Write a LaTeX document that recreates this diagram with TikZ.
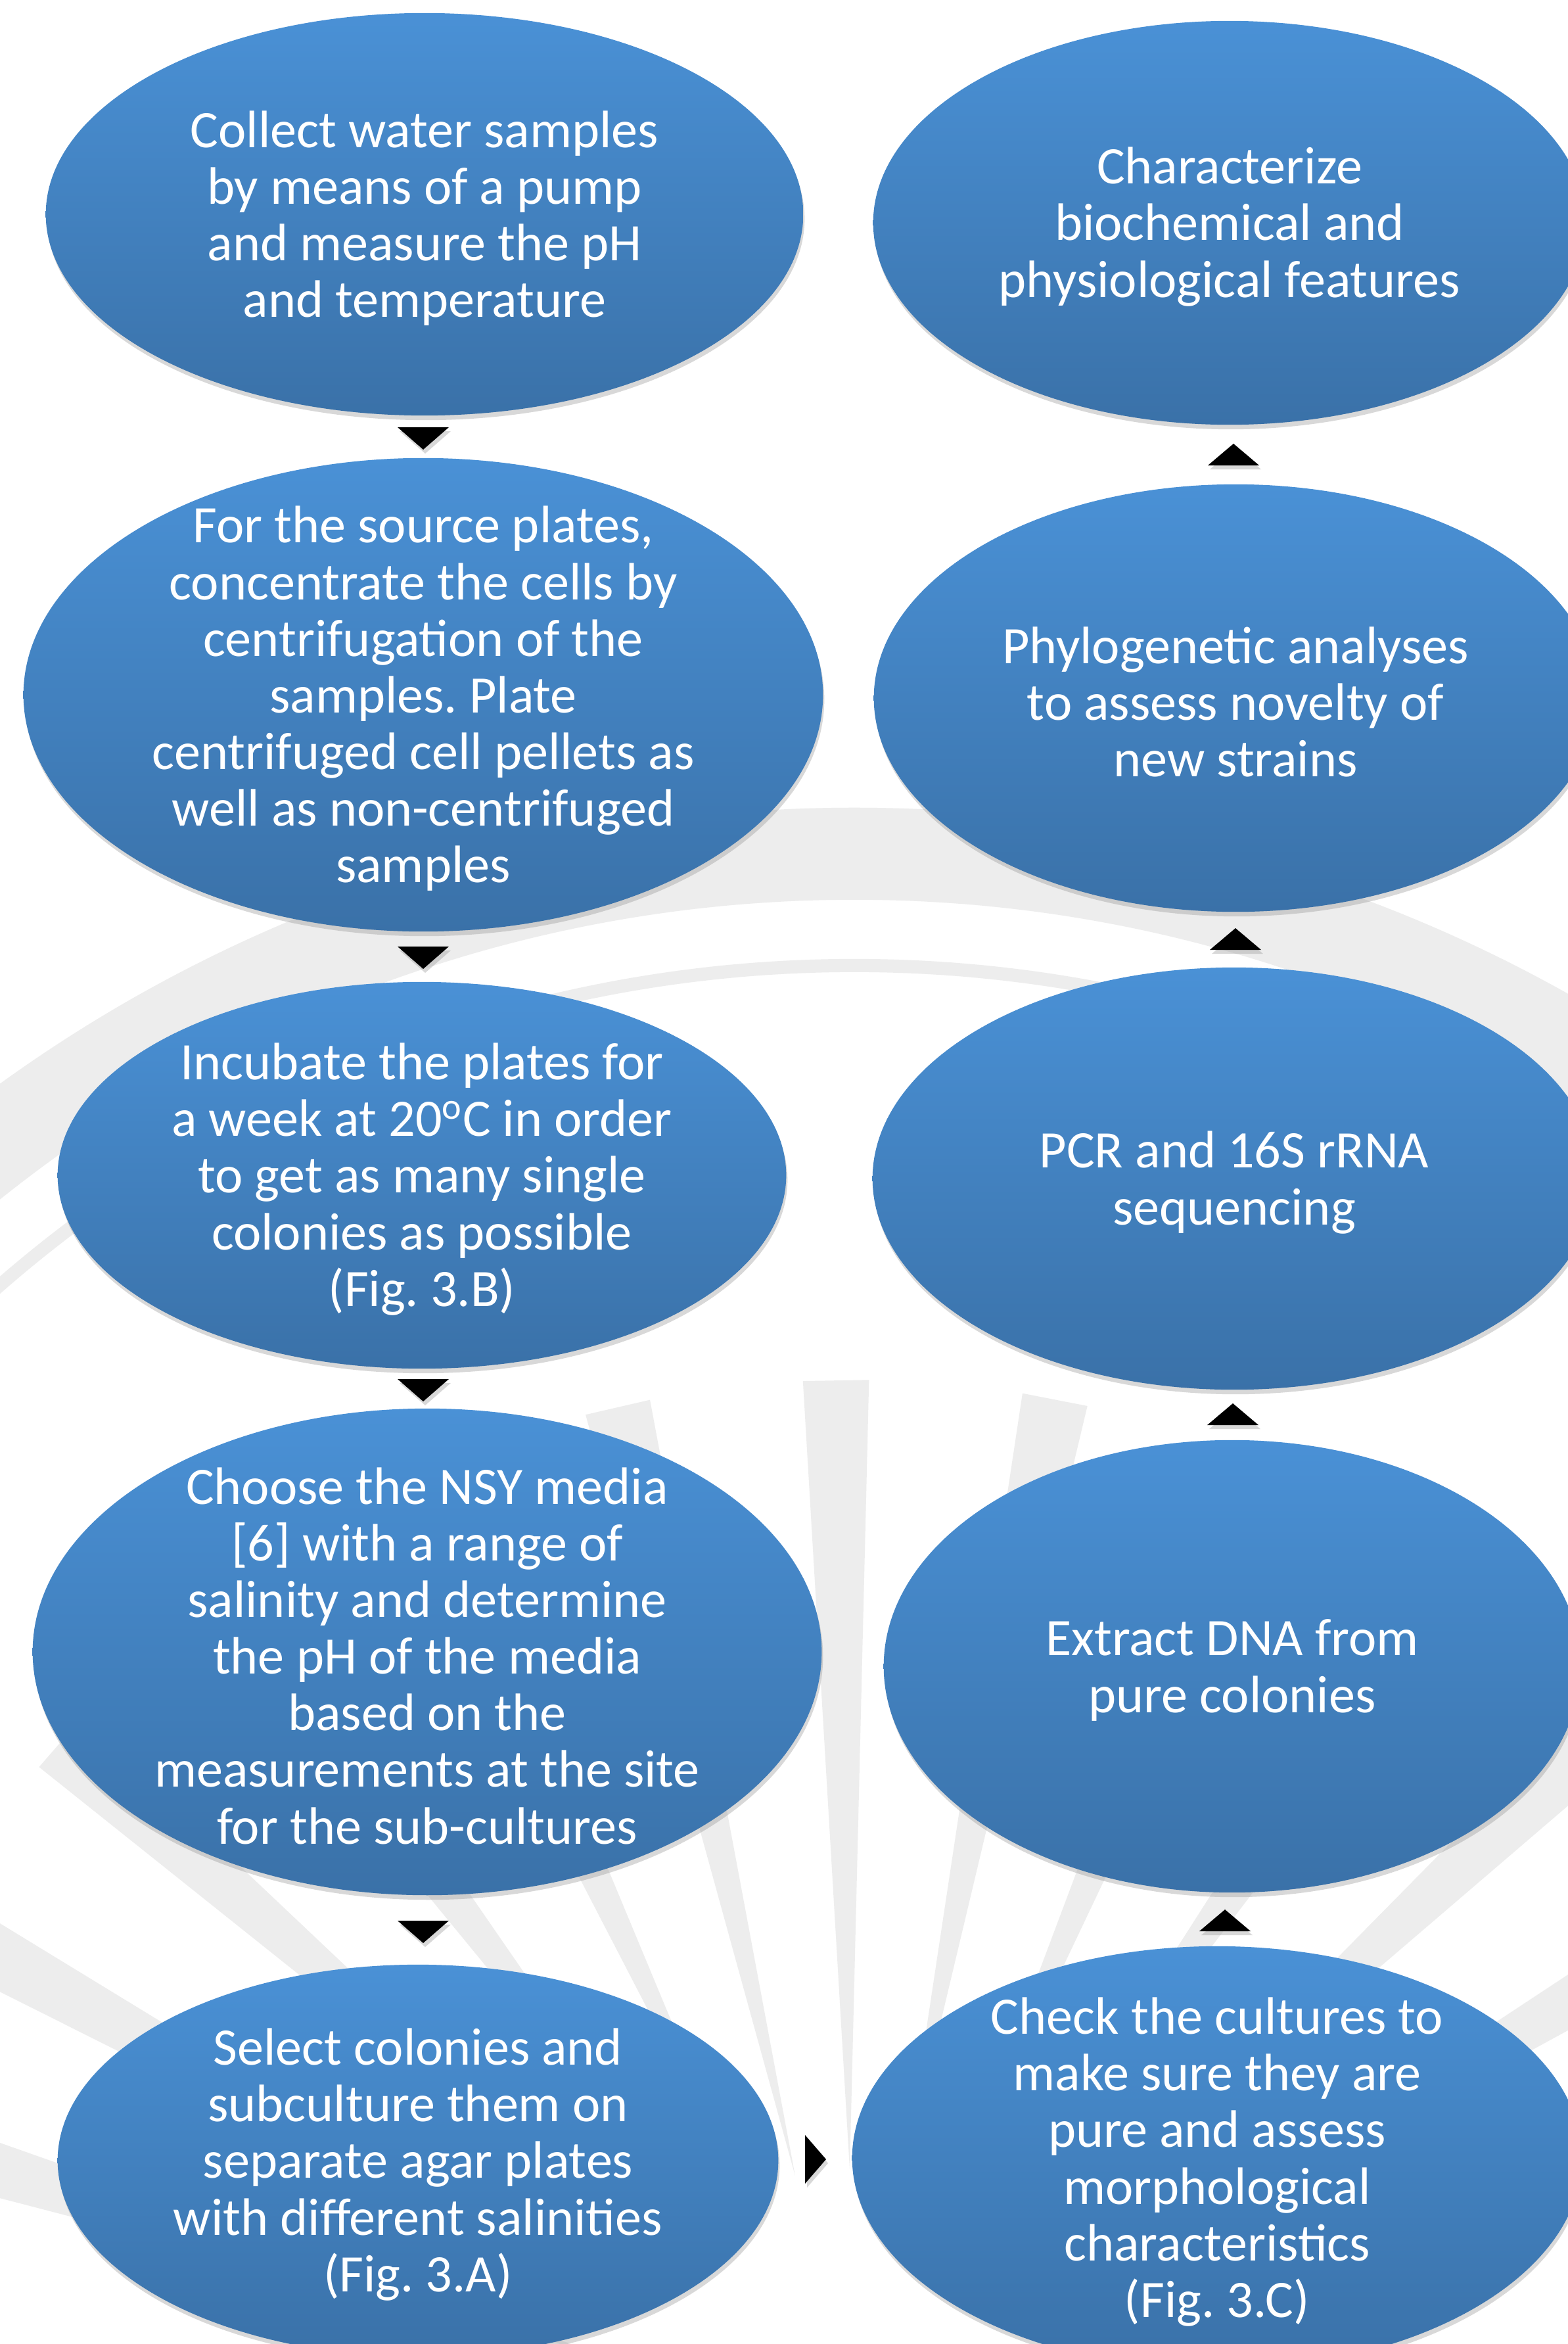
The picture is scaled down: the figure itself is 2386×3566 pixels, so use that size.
\documentclass[tikz,border=0pt]{standalone}
\usepackage{fontspec}
\setmainfont{Carlito}
\usetikzlibrary{shapes.geometric,shadows}
\definecolor{blobtop}{RGB}{74,145,214}
\definecolor{blobbot}{RGB}{58,113,168}
\definecolor{seal}{RGB}{237,237,237}
\tikzset{
  blob/.style={ellipse,inner sep=0pt,top color=blobtop,bottom color=blobbot,
    drop shadow={opacity=0.3,shadow xshift=0.2mm,shadow yshift=-0.7mm}},
  steptext/.style={text=white,align=center,yshift=-0.06cm,
    font=\fontsize{22.8}{24.5}\selectfont},
  tip/.style={fill=black,drop shadow={opacity=0.3,shadow xshift=0.3mm,shadow yshift=-0.6mm}}
}
\frenchspacing

\begin{document}
\begin{tikzpicture}[x=0.01cm,y=-0.01cm]
  \useasboundingbox (0,0) rectangle (2386,3566);
  \fill[white] (0,0) rectangle (2386,3566);
  % faint seal in the background
  \fill[seal,even odd rule] (1300,3450) circle[radius=22.2cm] circle[radius=20.8cm];
  \draw[seal,line width=0.2cm] (1300,3450) circle[radius=19.8cm];
  \begin{scope}[shift={(1300,3700)}]
    \foreach \a in {19,31,...,163}
      \fill[seal] (\a:4cm) -- (\a-1.8:16cm) -- (\a+1.8:16cm) -- cycle;
  \end{scope}

  % left column
  \node[blob,minimum width=11.52cm,minimum height=6.12cm] (e1) at (646,326) {};
  \node[blob,minimum width=12.16cm,minimum height=7.2cm] (e2) at (644,1057) {};
  \node[blob,minimum width=11.08cm,minimum height=5.88cm] (e3) at (642,1788) {};
  \node[blob,minimum width=12cm,minimum height=7.4cm] (e4) at (650,2513) {};
  \node[blob,minimum width=10.96cm,minimum height=5.96cm] (e5) at (636,3287) {};
  % right column
  \node[blob,minimum width=10.84cm,minimum height=6.14cm] (e6) at (1871,339) {};
  \node[blob,minimum width=11cm,minimum height=6.5cm] (e7) at (1880,1062) {};
  \node[blob,minimum width=11cm,minimum height=6.42cm] (e8) at (1878,1793) {};
  \node[blob,minimum width=10.6cm,minimum height=6.88cm] (e9) at (1875,2535) {};
  \node[blob,minimum width=11.1cm,minimum height=6.44cm] (e10) at (1852,3283) {};

  \node[steptext] (t1) at (e1) {Collect water samples\\by means of a pump\\and measure the pH\\and temperature};
  \node[steptext] (t2) at (e2) {For the source plates,\\concentrate the cells by\\centrifugation of the\\samples. Plate\\centrifuged cell pellets as\\well as non-centrifuged\\samples};
  \node[steptext] (t3) at (e3) {Incubate the plates for\\a week at 20\textsuperscript{o}C in order\\to get as many single\\colonies as possible\\(Fig. 3.B)};
  \node[steptext] (t4) at (e4) {Choose the NSY media\\{[}6{]} with a range of\\salinity and determine\\the pH of the media\\based on the\\measurements at the site\\for the sub-cultures};
  \node[steptext] (t5) at (e5) {Select colonies and\\subculture them on\\separate agar plates\\with different salinities\\(Fig. 3.A)};
  \node[steptext] (t6) at (e6) {Characterize\\biochemical and\\physiological features};
  \node[steptext] (t7) at (e7) {Phylogenetic analyses\\to assess novelty of\\new strains};
  \node[steptext] (t8) at (e8) {PCR and 16S rRNA\\sequencing};
  \node[steptext] (t9) at (e9) {Extract DNA from\\pure colonies};
  \node[steptext] (t10) at (e10) {Check the cultures to\\make sure they are\\pure and assess\\morphological\\characteristics\\(Fig. 3.C)};

  % arrow heads
  \foreach \ty in {650,1440,2098,2922}
    \fill[tip] (605,\ty) -- (683,\ty) -- (644,\ty+34) -- cycle;
  \foreach \tx/\ty in {1877/708,1880/1445,1876/2168,1864/2938}
    \fill[tip] (\tx-39,\ty) -- (\tx+39,\ty) -- (\tx,\ty-33) -- cycle;
  \fill[tip] (1225,3248) -- (1225,3322) -- (1257,3285) -- cycle;
\end{tikzpicture}
\end{document}
